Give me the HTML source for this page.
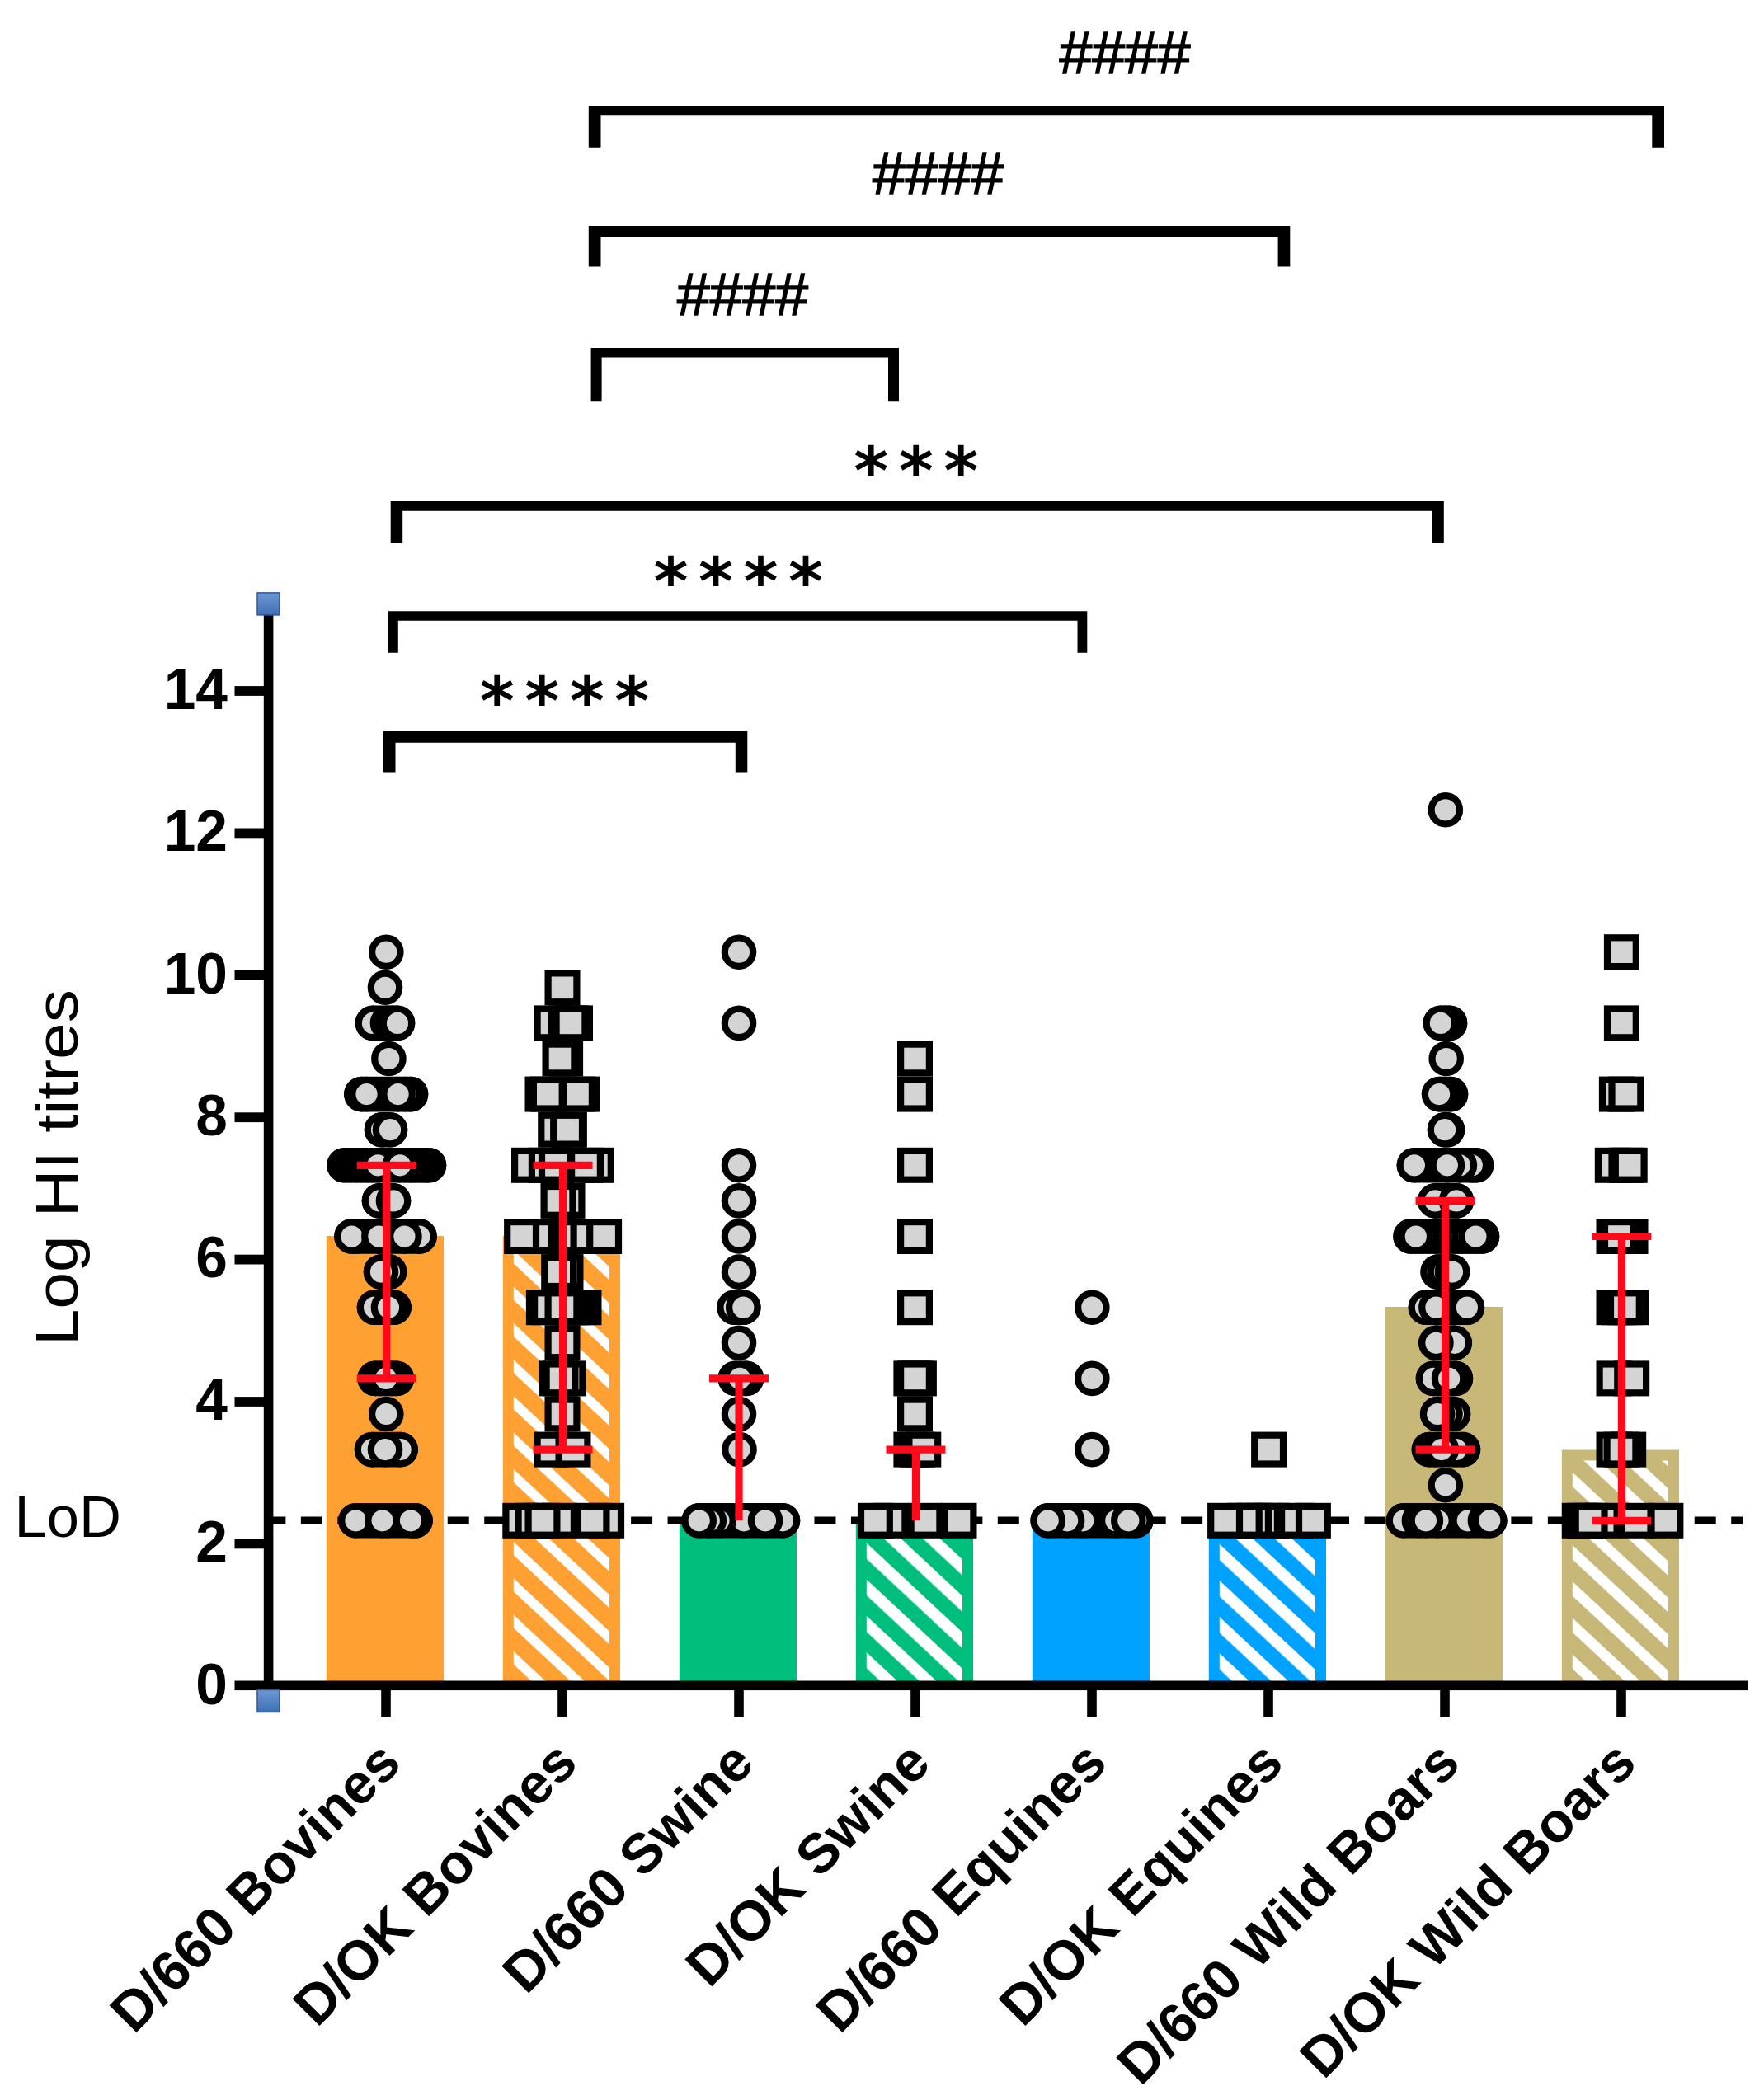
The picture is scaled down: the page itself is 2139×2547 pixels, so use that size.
<!DOCTYPE html>
<html lang="en"><head><meta charset="utf-8"><title>Log HI titres</title>
<style>html,body{margin:0;padding:0;background:#fff}svg{display:block}text{font-family:"Liberation Sans",Arial,sans-serif;fill:#000}.b{font-weight:bold}.st{font-family:"DejaVu Sans Mono","Liberation Mono",monospace;font-weight:bold}</style></head><body>
<svg width="2139" height="2547" viewBox="0 0 2139 2547">
<rect width="2139" height="2547" fill="#fff"/>
<defs>
<pattern id="ho" patternUnits="userSpaceOnUse" width="40" height="32.33" patternTransform="translate(1479 1872.9) rotate(43)"><rect width="40" height="32.33" fill="#FFA033"/><rect width="40" height="11.70" fill="#fff"/></pattern>
<pattern id="hg" patternUnits="userSpaceOnUse" width="40" height="32.33" patternTransform="translate(1479 1872.9) rotate(43)"><rect width="40" height="32.33" fill="#00BF7C"/><rect width="40" height="14.12" fill="#fff"/></pattern>
<pattern id="hb" patternUnits="userSpaceOnUse" width="40" height="32.33" patternTransform="translate(1479 1872.9) rotate(43)"><rect width="40" height="32.33" fill="#00A2FF"/><rect width="40" height="14.12" fill="#fff"/></pattern>
<pattern id="ht" patternUnits="userSpaceOnUse" width="40" height="32.33" patternTransform="translate(1479 1872.9) rotate(43)"><rect width="40" height="32.33" fill="#C8B878"/><rect width="40" height="12.80" fill="#fff"/></pattern>
</defs>
<rect x="395.8" y="1499" width="142.2" height="545.3" fill="#FFA033"/>
<rect x="609.8" y="1499" width="142.2" height="545.3" fill="#FFA033"/>
<rect x="622.8" y="1512" width="116.2" height="532.3" fill="url(#ho)"/>
<rect x="823.8" y="1846" width="142.2" height="198.3" fill="#00BF7C"/>
<rect x="1037.8" y="1846" width="142.2" height="198.3" fill="#00BF7C"/>
<rect x="1050.8" y="1859" width="116.2" height="185.3" fill="url(#hg)"/>
<rect x="1251.8" y="1846" width="142.2" height="198.3" fill="#00A2FF"/>
<rect x="1465.8" y="1846" width="142.2" height="198.3" fill="#00A2FF"/>
<rect x="1478.8" y="1859" width="116.2" height="185.3" fill="url(#hb)"/>
<rect x="1679.8" y="1585" width="142.2" height="459.3" fill="#C8B878"/>
<rect x="1893.8" y="1758.5" width="142.2" height="285.8" fill="#C8B878"/>
<rect x="1906.8" y="1771.5" width="116.2" height="272.8" fill="url(#ht)"/>
<line x1="320.4" y1="1844.3" x2="2113" y2="1844.3" stroke="#000" stroke-width="9.5" stroke-dasharray="26 18.47"/>
<g fill="#D4D4D4" stroke="#000" stroke-width="8.2">
<line x1="431.4" y1="1844.3" x2="503.5" y2="1844.3" stroke-width="42.6" stroke-linecap="round"/>
<circle cx="503.5" cy="1844.3" r="17.2"/>
<circle cx="470.0" cy="1844.3" r="17.2"/>
<circle cx="431.4" cy="1844.3" r="17.2"/>
<circle cx="463.6" cy="1844.3" r="17.2"/>
<circle cx="498.0" cy="1844.3" r="17.2"/>
<line x1="451.0" y1="1758.1" x2="485.6" y2="1758.1" stroke-width="42.6" stroke-linecap="round"/>
<circle cx="451.0" cy="1758.1" r="17.2"/>
<circle cx="485.6" cy="1758.1" r="17.2"/>
<circle cx="467.0" cy="1758.1" r="17.2"/>
<circle cx="468.3" cy="1715.0" r="17.2"/>
<line x1="454.6" y1="1671.9" x2="481.0" y2="1671.9" stroke-width="42.6" stroke-linecap="round"/>
<circle cx="454.6" cy="1671.9" r="17.2"/>
<circle cx="481.0" cy="1671.9" r="17.2"/>
<circle cx="461.0" cy="1671.9" r="17.2"/>
<circle cx="475.0" cy="1671.9" r="17.2"/>
<circle cx="468.0" cy="1671.9" r="17.2"/>
<line x1="454.0" y1="1585.7" x2="477.6" y2="1585.7" stroke-width="42.6" stroke-linecap="round"/>
<circle cx="454.0" cy="1585.7" r="17.2"/>
<circle cx="477.6" cy="1585.7" r="17.2"/>
<circle cx="471.0" cy="1585.7" r="17.2"/>
<line x1="462.0" y1="1542.6" x2="472.0" y2="1542.6" stroke-width="42.6" stroke-linecap="round"/>
<circle cx="472.0" cy="1542.6" r="17.2"/>
<circle cx="462.0" cy="1542.6" r="17.2"/>
<line x1="426.5" y1="1499.5" x2="508.5" y2="1499.5" stroke-width="42.6" stroke-linecap="round"/>
<circle cx="508.5" cy="1499.5" r="17.2"/>
<circle cx="432.0" cy="1499.5" r="17.2"/>
<circle cx="426.5" cy="1499.5" r="17.2"/>
<circle cx="459.4" cy="1499.5" r="17.2"/>
<circle cx="490.4" cy="1499.5" r="17.2"/>
<line x1="460.0" y1="1456.4" x2="477.0" y2="1456.4" stroke-width="42.6" stroke-linecap="round"/>
<circle cx="460.0" cy="1456.4" r="17.2"/>
<circle cx="477.0" cy="1456.4" r="17.2"/>
<line x1="417.6" y1="1413.3" x2="520.0" y2="1413.3" stroke-width="42.6" stroke-linecap="round"/>
<circle cx="417.6" cy="1413.3" r="17.2"/>
<circle cx="424.5" cy="1413.3" r="17.2"/>
<circle cx="431.4" cy="1413.3" r="17.2"/>
<circle cx="438.3" cy="1413.3" r="17.2"/>
<circle cx="445.2" cy="1413.3" r="17.2"/>
<circle cx="452.0" cy="1413.3" r="17.2"/>
<circle cx="520.0" cy="1413.3" r="17.2"/>
<circle cx="514.0" cy="1413.3" r="17.2"/>
<circle cx="508.0" cy="1413.3" r="17.2"/>
<circle cx="502.0" cy="1413.3" r="17.2"/>
<circle cx="496.5" cy="1413.3" r="17.2"/>
<circle cx="491.0" cy="1413.3" r="17.2"/>
<circle cx="458.2" cy="1413.3" r="17.2"/>
<circle cx="485.0" cy="1413.3" r="17.2"/>
<line x1="463.0" y1="1370.2" x2="473.0" y2="1370.2" stroke-width="42.6" stroke-linecap="round"/>
<circle cx="463.0" cy="1370.2" r="17.2"/>
<circle cx="473.0" cy="1370.2" r="17.2"/>
<line x1="438.4" y1="1327.1" x2="498.0" y2="1327.1" stroke-width="42.6" stroke-linecap="round"/>
<circle cx="438.4" cy="1327.1" r="17.2"/>
<circle cx="498.0" cy="1327.1" r="17.2"/>
<circle cx="491.0" cy="1327.1" r="17.2"/>
<circle cx="444.5" cy="1327.1" r="17.2"/>
<circle cx="482.6" cy="1327.1" r="17.2"/>
<circle cx="471.4" cy="1284.0" r="17.2"/>
<line x1="452.0" y1="1240.9" x2="482.0" y2="1240.9" stroke-width="42.6" stroke-linecap="round"/>
<circle cx="452.0" cy="1240.9" r="17.2"/>
<circle cx="470.0" cy="1240.9" r="17.2"/>
<circle cx="476.0" cy="1240.9" r="17.2"/>
<circle cx="482.0" cy="1240.9" r="17.2"/>
<circle cx="467.0" cy="1197.8" r="17.2"/>
<circle cx="468.3" cy="1154.7" r="17.2"/>
<rect x="613.4" y="1826.9" width="34.8" height="34.8"/>
<rect x="628.6" y="1826.9" width="34.8" height="34.8"/>
<rect x="661.1" y="1826.9" width="34.8" height="34.8"/>
<rect x="718.2" y="1826.9" width="34.8" height="34.8"/>
<rect x="640.6" y="1826.9" width="34.8" height="34.8"/>
<rect x="700.6" y="1826.9" width="34.8" height="34.8"/>
<rect x="651.6" y="1740.7" width="34.8" height="34.8"/>
<rect x="677.6" y="1740.7" width="34.8" height="34.8"/>
<rect x="664.6" y="1697.6" width="34.8" height="34.8"/>
<rect x="657.6" y="1654.5" width="34.8" height="34.8"/>
<rect x="671.6" y="1654.5" width="34.8" height="34.8"/>
<rect x="662.6" y="1654.5" width="34.8" height="34.8"/>
<rect x="664.6" y="1611.4" width="34.8" height="34.8"/>
<rect x="642.0" y="1568.3" width="34.8" height="34.8"/>
<rect x="648.1" y="1568.3" width="34.8" height="34.8"/>
<rect x="690.6" y="1568.3" width="34.8" height="34.8"/>
<rect x="683.6" y="1568.3" width="34.8" height="34.8"/>
<rect x="676.6" y="1568.3" width="34.8" height="34.8"/>
<rect x="670.6" y="1568.3" width="34.8" height="34.8"/>
<rect x="664.6" y="1568.3" width="34.8" height="34.8"/>
<rect x="668.6" y="1525.2" width="34.8" height="34.8"/>
<rect x="660.3" y="1525.2" width="34.8" height="34.8"/>
<rect x="664.6" y="1482.1" width="34.8" height="34.8"/>
<rect x="652.6" y="1482.1" width="34.8" height="34.8"/>
<rect x="676.6" y="1482.1" width="34.8" height="34.8"/>
<rect x="634.1" y="1482.1" width="34.8" height="34.8"/>
<rect x="695.6" y="1482.1" width="34.8" height="34.8"/>
<rect x="615.2" y="1482.1" width="34.8" height="34.8"/>
<rect x="715.2" y="1482.1" width="34.8" height="34.8"/>
<rect x="670.6" y="1439.0" width="34.8" height="34.8"/>
<rect x="659.6" y="1439.0" width="34.8" height="34.8"/>
<rect x="624.1" y="1395.9" width="34.8" height="34.8"/>
<rect x="644.9" y="1395.9" width="34.8" height="34.8"/>
<rect x="657.0" y="1395.9" width="34.8" height="34.8"/>
<rect x="706.0" y="1395.9" width="34.8" height="34.8"/>
<rect x="693.1" y="1395.9" width="34.8" height="34.8"/>
<rect x="656.3" y="1352.8" width="34.8" height="34.8"/>
<rect x="673.0" y="1352.8" width="34.8" height="34.8"/>
<rect x="671.2" y="1352.8" width="34.8" height="34.8"/>
<rect x="640.6" y="1309.7" width="34.8" height="34.8"/>
<rect x="688.5" y="1309.7" width="34.8" height="34.8"/>
<rect x="646.9" y="1309.7" width="34.8" height="34.8"/>
<rect x="683.1" y="1309.7" width="34.8" height="34.8"/>
<rect x="668.2" y="1266.6" width="34.8" height="34.8"/>
<rect x="661.6" y="1266.6" width="34.8" height="34.8"/>
<rect x="651.6" y="1223.5" width="34.8" height="34.8"/>
<rect x="680.1" y="1223.5" width="34.8" height="34.8"/>
<rect x="668.3" y="1223.5" width="34.8" height="34.8"/>
<rect x="674.6" y="1223.5" width="34.8" height="34.8"/>
<rect x="664.6" y="1180.4" width="34.8" height="34.8"/>
<line x1="847.7" y1="1844.3" x2="949.0" y2="1844.3" stroke-width="42.6" stroke-linecap="round"/>
<circle cx="949.0" cy="1844.3" r="17.2"/>
<circle cx="902.0" cy="1844.3" r="17.2"/>
<circle cx="871.5" cy="1844.3" r="17.2"/>
<circle cx="859.8" cy="1844.3" r="17.2"/>
<circle cx="847.7" cy="1844.3" r="17.2"/>
<circle cx="928.0" cy="1844.3" r="17.2"/>
<circle cx="896.5" cy="1758.1" r="17.2"/>
<circle cx="896.0" cy="1715.0" r="17.2"/>
<line x1="891.8" y1="1671.9" x2="905.0" y2="1671.9" stroke-width="42.6" stroke-linecap="round"/>
<circle cx="891.8" cy="1671.9" r="17.2"/>
<circle cx="905.0" cy="1671.9" r="17.2"/>
<circle cx="897.0" cy="1671.9" r="17.2"/>
<circle cx="896.0" cy="1628.8" r="17.2"/>
<line x1="890.6" y1="1585.7" x2="901.3" y2="1585.7" stroke-width="42.6" stroke-linecap="round"/>
<circle cx="890.6" cy="1585.7" r="17.2"/>
<circle cx="901.3" cy="1585.7" r="17.2"/>
<circle cx="896.0" cy="1542.6" r="17.2"/>
<circle cx="896.0" cy="1499.5" r="17.2"/>
<circle cx="896.0" cy="1456.4" r="17.2"/>
<circle cx="896.0" cy="1413.3" r="17.2"/>
<circle cx="896.0" cy="1240.9" r="17.2"/>
<circle cx="896.0" cy="1154.7" r="17.2"/>
<rect x="1062.6" y="1826.9" width="34.8" height="34.8"/>
<rect x="1044.0" y="1826.9" width="34.8" height="34.8"/>
<rect x="1104.6" y="1826.9" width="34.8" height="34.8"/>
<rect x="1145.6" y="1826.9" width="34.8" height="34.8"/>
<rect x="1087.5" y="1740.7" width="34.8" height="34.8"/>
<rect x="1094.6" y="1740.7" width="34.8" height="34.8"/>
<rect x="1102.4" y="1740.7" width="34.8" height="34.8"/>
<rect x="1092.1" y="1697.6" width="34.8" height="34.8"/>
<rect x="1087.5" y="1654.5" width="34.8" height="34.8"/>
<rect x="1097.0" y="1654.5" width="34.8" height="34.8"/>
<rect x="1092.1" y="1654.5" width="34.8" height="34.8"/>
<rect x="1092.1" y="1568.3" width="34.8" height="34.8"/>
<rect x="1092.1" y="1482.1" width="34.8" height="34.8"/>
<rect x="1092.1" y="1395.9" width="34.8" height="34.8"/>
<rect x="1092.1" y="1309.7" width="34.8" height="34.8"/>
<rect x="1092.1" y="1266.6" width="34.8" height="34.8"/>
<line x1="1270.7" y1="1844.3" x2="1377.3" y2="1844.3" stroke-width="42.6" stroke-linecap="round"/>
<circle cx="1377.3" cy="1844.3" r="17.2"/>
<circle cx="1313.2" cy="1844.3" r="17.2"/>
<circle cx="1294.1" cy="1844.3" r="17.2"/>
<circle cx="1270.7" cy="1844.3" r="17.2"/>
<circle cx="1353.3" cy="1844.3" r="17.2"/>
<circle cx="1368.3" cy="1844.3" r="17.2"/>
<circle cx="1324.3" cy="1758.1" r="17.2"/>
<circle cx="1324.3" cy="1671.9" r="17.2"/>
<circle cx="1324.3" cy="1585.7" r="17.2"/>
<rect x="1525.1" y="1826.9" width="34.8" height="34.8"/>
<rect x="1514.1" y="1826.9" width="34.8" height="34.8"/>
<rect x="1503.1" y="1826.9" width="34.8" height="34.8"/>
<rect x="1491.9" y="1826.9" width="34.8" height="34.8"/>
<rect x="1468.2" y="1826.9" width="34.8" height="34.8"/>
<rect x="1554.1" y="1826.9" width="34.8" height="34.8"/>
<rect x="1575.0" y="1826.9" width="34.8" height="34.8"/>
<rect x="1521.2" y="1740.7" width="34.8" height="34.8"/>
<line x1="1702.0" y1="1844.3" x2="1806.3" y2="1844.3" stroke-width="42.6" stroke-linecap="round"/>
<circle cx="1702.0" cy="1844.3" r="17.2"/>
<circle cx="1720.9" cy="1844.3" r="17.2"/>
<circle cx="1743.5" cy="1844.3" r="17.2"/>
<circle cx="1728.9" cy="1844.3" r="17.2"/>
<circle cx="1779.8" cy="1844.3" r="17.2"/>
<circle cx="1800.9" cy="1844.3" r="17.2"/>
<circle cx="1806.3" cy="1844.3" r="17.2"/>
<circle cx="1752.9" cy="1801.2" r="17.2"/>
<line x1="1732.9" y1="1758.1" x2="1774.0" y2="1758.1" stroke-width="42.6" stroke-linecap="round"/>
<circle cx="1732.9" cy="1758.1" r="17.2"/>
<circle cx="1774.0" cy="1758.1" r="17.2"/>
<circle cx="1740.5" cy="1758.1" r="17.2"/>
<circle cx="1765.5" cy="1758.1" r="17.2"/>
<circle cx="1748.0" cy="1758.1" r="17.2"/>
<line x1="1743.2" y1="1715.0" x2="1762.0" y2="1715.0" stroke-width="42.6" stroke-linecap="round"/>
<circle cx="1762.0" cy="1715.0" r="17.2"/>
<circle cx="1752.5" cy="1715.0" r="17.2"/>
<circle cx="1743.2" cy="1715.0" r="17.2"/>
<line x1="1738.0" y1="1671.9" x2="1764.9" y2="1671.9" stroke-width="42.6" stroke-linecap="round"/>
<circle cx="1738.0" cy="1671.9" r="17.2"/>
<circle cx="1764.9" cy="1671.9" r="17.2"/>
<circle cx="1757.1" cy="1671.9" r="17.2"/>
<line x1="1741.4" y1="1628.8" x2="1763.7" y2="1628.8" stroke-width="42.6" stroke-linecap="round"/>
<circle cx="1763.7" cy="1628.8" r="17.2"/>
<circle cx="1741.4" cy="1628.8" r="17.2"/>
<line x1="1728.9" y1="1585.7" x2="1778.9" y2="1585.7" stroke-width="42.6" stroke-linecap="round"/>
<circle cx="1728.9" cy="1585.7" r="17.2"/>
<circle cx="1741.4" cy="1585.7" r="17.2"/>
<circle cx="1778.9" cy="1585.7" r="17.2"/>
<line x1="1743.7" y1="1542.6" x2="1761.0" y2="1542.6" stroke-width="42.6" stroke-linecap="round"/>
<circle cx="1743.7" cy="1542.6" r="17.2"/>
<circle cx="1752.0" cy="1542.6" r="17.2"/>
<circle cx="1761.0" cy="1542.6" r="17.2"/>
<line x1="1710.6" y1="1499.5" x2="1797.0" y2="1499.5" stroke-width="42.6" stroke-linecap="round"/>
<circle cx="1748.8" cy="1499.5" r="17.2"/>
<circle cx="1757.4" cy="1499.5" r="17.2"/>
<circle cx="1740.8" cy="1499.5" r="17.2"/>
<circle cx="1765.4" cy="1499.5" r="17.2"/>
<circle cx="1732.8" cy="1499.5" r="17.2"/>
<circle cx="1773.4" cy="1499.5" r="17.2"/>
<circle cx="1724.8" cy="1499.5" r="17.2"/>
<circle cx="1781.4" cy="1499.5" r="17.2"/>
<circle cx="1710.6" cy="1499.5" r="17.2"/>
<circle cx="1797.0" cy="1499.5" r="17.2"/>
<circle cx="1716.8" cy="1499.5" r="17.2"/>
<circle cx="1789.4" cy="1499.5" r="17.2"/>
<line x1="1740.3" y1="1456.4" x2="1766.0" y2="1456.4" stroke-width="42.6" stroke-linecap="round"/>
<circle cx="1740.3" cy="1456.4" r="17.2"/>
<circle cx="1766.0" cy="1456.4" r="17.2"/>
<line x1="1714.9" y1="1413.3" x2="1790.0" y2="1413.3" stroke-width="42.6" stroke-linecap="round"/>
<circle cx="1790.0" cy="1413.3" r="17.2"/>
<circle cx="1784.8" cy="1413.3" r="17.2"/>
<circle cx="1769.9" cy="1413.3" r="17.2"/>
<circle cx="1714.9" cy="1413.3" r="17.2"/>
<circle cx="1754.9" cy="1413.3" r="17.2"/>
<line x1="1752.0" y1="1370.2" x2="1755.0" y2="1370.2" stroke-width="42.6" stroke-linecap="round"/>
<circle cx="1755.0" cy="1370.2" r="17.2"/>
<circle cx="1752.0" cy="1370.2" r="17.2"/>
<line x1="1745.1" y1="1327.1" x2="1759.0" y2="1327.1" stroke-width="42.6" stroke-linecap="round"/>
<circle cx="1759.0" cy="1327.1" r="17.2"/>
<circle cx="1752.0" cy="1327.1" r="17.2"/>
<circle cx="1745.1" cy="1327.1" r="17.2"/>
<circle cx="1753.7" cy="1284.0" r="17.2"/>
<line x1="1746.9" y1="1240.9" x2="1758.0" y2="1240.9" stroke-width="42.6" stroke-linecap="round"/>
<circle cx="1758.0" cy="1240.9" r="17.2"/>
<circle cx="1752.5" cy="1240.9" r="17.2"/>
<circle cx="1746.9" cy="1240.9" r="17.2"/>
<circle cx="1752.8" cy="982.3" r="17.2"/>
<rect x="1897.9" y="1826.9" width="34.8" height="34.8"/>
<rect x="1904.3" y="1826.9" width="34.8" height="34.8"/>
<rect x="1925.8" y="1826.9" width="34.8" height="34.8"/>
<rect x="1910.7" y="1826.9" width="34.8" height="34.8"/>
<rect x="1966.7" y="1826.9" width="34.8" height="34.8"/>
<rect x="2002.5" y="1826.9" width="34.8" height="34.8"/>
<rect x="1939.6" y="1740.7" width="34.8" height="34.8"/>
<rect x="1957.3" y="1740.7" width="34.8" height="34.8"/>
<rect x="1948.6" y="1740.7" width="34.8" height="34.8"/>
<rect x="1939.6" y="1654.5" width="34.8" height="34.8"/>
<rect x="1961.3" y="1654.5" width="34.8" height="34.8"/>
<rect x="1939.6" y="1568.3" width="34.8" height="34.8"/>
<rect x="1946.1" y="1568.3" width="34.8" height="34.8"/>
<rect x="1960.6" y="1568.3" width="34.8" height="34.8"/>
<rect x="1953.0" y="1568.3" width="34.8" height="34.8"/>
<rect x="1959.6" y="1482.1" width="34.8" height="34.8"/>
<rect x="1952.6" y="1482.1" width="34.8" height="34.8"/>
<rect x="1939.6" y="1482.1" width="34.8" height="34.8"/>
<rect x="1946.0" y="1482.1" width="34.8" height="34.8"/>
<rect x="1937.9" y="1395.9" width="34.8" height="34.8"/>
<rect x="1954.5" y="1395.9" width="34.8" height="34.8"/>
<rect x="1958.8" y="1395.9" width="34.8" height="34.8"/>
<rect x="1943.0" y="1309.7" width="34.8" height="34.8"/>
<rect x="1954.5" y="1309.7" width="34.8" height="34.8"/>
<rect x="1949.0" y="1223.5" width="34.8" height="34.8"/>
<rect x="1949.0" y="1137.3" width="34.8" height="34.8"/>
</g>
<g stroke="#FF0A1A" stroke-width="9.2" fill="none">
<line x1="468.7" y1="1671.9" x2="468.7" y2="1413.3"/>
<line x1="432.7" y1="1413.3" x2="504.7" y2="1413.3"/>
<line x1="432.7" y1="1671.9" x2="504.7" y2="1671.9"/>
<line x1="682.5" y1="1758.1" x2="682.5" y2="1413.3"/>
<line x1="646.5" y1="1413.3" x2="718.5" y2="1413.3"/>
<line x1="646.5" y1="1758.1" x2="718.5" y2="1758.1"/>
<line x1="896" y1="1844.3" x2="896" y2="1671.9"/>
<line x1="860" y1="1671.9" x2="932" y2="1671.9"/>
<line x1="1110.5" y1="1844.3" x2="1110.5" y2="1758.1"/>
<line x1="1074.5" y1="1758.1" x2="1146.5" y2="1758.1"/>
<line x1="1752.5" y1="1758.1" x2="1752.5" y2="1456.4"/>
<line x1="1716.5" y1="1456.4" x2="1788.5" y2="1456.4"/>
<line x1="1716.5" y1="1758.1" x2="1788.5" y2="1758.1"/>
<line x1="1966.4" y1="1844.3" x2="1966.4" y2="1499.5"/>
<line x1="1930.4" y1="1499.5" x2="2002.4" y2="1499.5"/>
<line x1="1930.4" y1="1844.3" x2="2002.4" y2="1844.3"/>
</g>
<g fill="#000">
<rect x="319.8" y="733" width="11.6" height="1317.1"/>
<rect x="284.5" y="2038.5" width="1834.5" height="11.6"/>
<rect x="284.5" y="1866.5" width="36" height="11.8"/>
<rect x="284.5" y="1694.1" width="36" height="11.8"/>
<rect x="284.5" y="1521.7" width="36" height="11.8"/>
<rect x="284.5" y="1349.3" width="36" height="11.8"/>
<rect x="284.5" y="1176.9" width="36" height="11.8"/>
<rect x="284.5" y="1004.5" width="36" height="11.8"/>
<rect x="284.5" y="832.1" width="36" height="11.8"/>
<rect x="462.2" y="2044.3" width="11.6" height="38"/>
<rect x="676.2" y="2044.3" width="11.6" height="38"/>
<rect x="890.2" y="2044.3" width="11.6" height="38"/>
<rect x="1104.2" y="2044.3" width="11.6" height="38"/>
<rect x="1318.2" y="2044.3" width="11.6" height="38"/>
<rect x="1532.2" y="2044.3" width="11.6" height="38"/>
<rect x="1746.2" y="2044.3" width="11.6" height="38"/>
<rect x="1960.2" y="2044.3" width="11.6" height="38"/>
</g>
<defs><linearGradient id="bh" x1="0" y1="0" x2="0" y2="1"><stop offset="0" stop-color="#6C98D4"/><stop offset="1" stop-color="#3F6FB5"/></linearGradient></defs>
<rect x="312" y="718.9" width="27" height="27" fill="url(#bh)" stroke="#2F5597" stroke-width="1.5"/>
<rect x="312" y="2049.5" width="27" height="27" fill="url(#bh)" stroke="#2F5597" stroke-width="1.5"/>
<text class="b" x="276" y="2066.6" font-size="69.5" text-anchor="end">0</text>
<text class="b" x="276" y="1894.2" font-size="69.5" text-anchor="end">2</text>
<text class="b" x="276" y="1721.8" font-size="69.5" text-anchor="end">4</text>
<text class="b" x="276" y="1549.4" font-size="69.5" text-anchor="end">6</text>
<text class="b" x="276" y="1377.0" font-size="69.5" text-anchor="end">8</text>
<text class="b" x="276" y="1204.6" font-size="69.5" text-anchor="end">10</text>
<text class="b" x="276" y="1032.2" font-size="69.5" text-anchor="end">12</text>
<text class="b" x="276" y="859.8" font-size="69.5" text-anchor="end">14</text>
<text x="17.5" y="1863.8" font-size="70.5">LoD</text>
<text transform="translate(94 1416.2) rotate(-90)" font-size="73" text-anchor="middle" textLength="431.8" lengthAdjust="spacingAndGlyphs">Log HI titres</text>
<text class="b" transform="translate(489 2141.5) rotate(-45)" font-size="67.6" text-anchor="end">D/660 Bovines</text>
<text class="b" transform="translate(703 2141.5) rotate(-45)" font-size="67.6" text-anchor="end">D/OK Bovines</text>
<text class="b" transform="translate(917 2141.5) rotate(-45)" font-size="67.6" text-anchor="end">D/660 Swine</text>
<text class="b" transform="translate(1131 2141.5) rotate(-45)" font-size="67.6" text-anchor="end">D/OK Swine</text>
<text class="b" transform="translate(1345 2141.5) rotate(-45)" font-size="67.6" text-anchor="end">D/660 Equines</text>
<text class="b" transform="translate(1559 2141.5) rotate(-45)" font-size="67.6" text-anchor="end">D/OK Equines</text>
<text class="b" transform="translate(1773 2141.5) rotate(-45)" font-size="67.6" text-anchor="end">D/660 Wild Boars</text>
<text class="b" transform="translate(1987 2141.5) rotate(-45)" font-size="67.6" text-anchor="end">D/OK Wild Boars</text>
<g fill="#000">
<path d="M713.8 128H2018V178.7H2003.3V140.3H728.5V178.7H713.8Z"/>
<path d="M713.8 274H1564.3V323.6H1549.6V287.9H728.5V323.6H713.8Z"/>
<path d="M716.6 422H1090V486.3H1077V433.5H729.6V486.3H716.6Z"/>
<path d="M473.7 608H1750.8V658H1736.3V619.8H488.2V658H473.7Z"/>
<path d="M471 741.3H1318.3V791.7H1306.5V752.8H482.8V791.7H471Z"/>
<path d="M465 887H906.3V936.5H891.8V900.8H479.5V936.5H465Z"/>
</g>
<text x="1284.5" y="89.4" font-size="72" textLength="159" lengthAdjust="spacingAndGlyphs" stroke="#000" stroke-width="1.5">####</text>
<text x="1058" y="235" font-size="72" textLength="159" lengthAdjust="spacingAndGlyphs" stroke="#000" stroke-width="1.5">####</text>
<text x="821" y="382.3" font-size="72" textLength="159" lengthAdjust="spacingAndGlyphs" stroke="#000" stroke-width="1.5">####</text>
<text class="st" x="1032.3 1086.8 1141.3" y="599.0" font-size="80">***</text>
<text class="st" x="789.5 844.0 898.5 953.0" y="732.7" font-size="80">****</text>
<text class="st" x="578.8 633.3 687.8 742.3" y="878.0" font-size="80">****</text>
</svg></body></html>
